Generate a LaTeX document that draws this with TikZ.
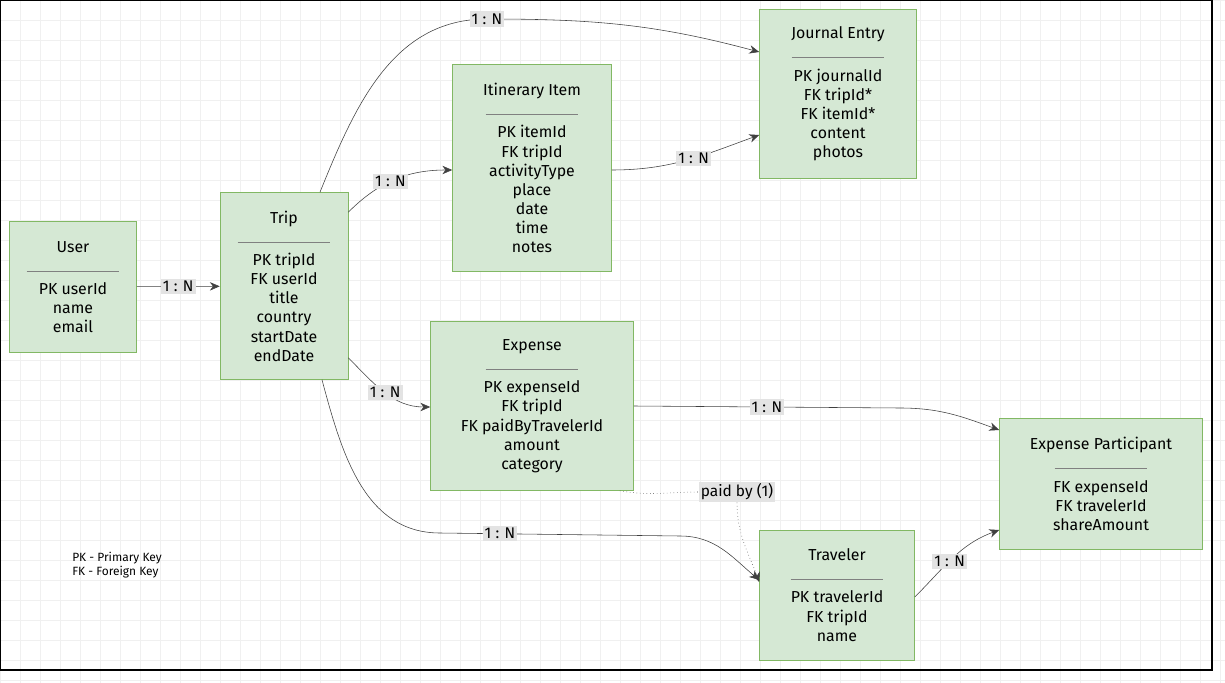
\documentclass[tikz,border=0pt]{standalone}
\usepackage{fontspec}
\setmainfont{Fira Sans}
\usetikzlibrary{arrows.meta}
\definecolor{boxfill}{RGB}{213,232,212}
\definecolor{boxline}{RGB}{130,184,100}
\begin{document}
\begin{tikzpicture}[
    x=0.025cm, y=-0.025cm,
    entity/.style={
        draw=boxline,
        fill=boxfill,
        align=center,
        font=\fontsize{11.3}{13.6}\selectfont,
        inner sep=0pt
    },
    card/.style={
        fill=gray!22,
        inner sep=1.5pt,
        font=\fontsize{11}{12}\selectfont
    },
    rel/.style={
        -{Stealth[length=7pt,width=6pt]},
        draw=black!75
    }
]
    % --- Background ---
    \useasboundingbox (0,0) rectangle (1225,683);
    \draw[step=0.5cm, gray!12] (0,0) grid (1225,683);
    \draw[black, thick] (0,0) rectangle (1212,670);

    % --- Entities ---
    \node[entity, minimum width=3.175cm, minimum height=3.275cm] (user) at (73,287)
        {User\\[3pt]\textcolor{gray}{\rule[3pt]{66pt}{0.4pt}}\\PK userId\\name\\email};
    \node[entity, minimum width=3.2cm, minimum height=4.675cm] (trip) at (284,286)
        {Trip\\[3pt]\textcolor{gray}{\rule[3pt]{66pt}{0.4pt}}\\PK tripId\\FK userId\\title\\country\\startDate\\endDate};
    \node[entity, minimum width=3.975cm, minimum height=5.175cm] (item) at (532,168)
        {Itinerary Item\\[3pt]\textcolor{gray}{\rule[3pt]{66pt}{0.4pt}}\\PK itemId\\FK tripId\\activityType\\place\\date\\time\\notes};
    \node[entity, minimum width=3.925cm, minimum height=4.225cm] (journal) at (838,94)
        {Journal Entry\\[3pt]\textcolor{gray}{\rule[3pt]{66pt}{0.4pt}}\\PK journalId\\FK tripId*\\FK itemId*\\content\\photos};
    \node[entity, minimum width=5.075cm, minimum height=4.225cm] (expense) at (532,406)
        {Expense\\[3pt]\textcolor{gray}{\rule[3pt]{66pt}{0.4pt}}\\PK expenseId\\FK tripId\\FK paidByTravelerId\\amount\\category};
    \node[entity, minimum width=5.075cm, minimum height=3.275cm] (participant) at (1101,484)
        {Expense Participant\\[3pt]\textcolor{gray}{\rule[3pt]{66pt}{0.4pt}}\\FK expenseId\\FK travelerId\\shareAmount};
    \node[entity, minimum width=3.875cm, minimum height=3.25cm] (traveler) at (837,595)
        {Traveler\\[3pt]\textcolor{gray}{\rule[3pt]{66pt}{0.4pt}}\\PK travelerId\\FK tripId\\name};

    % --- Relations ---
    \draw[rel] (user) -- node[card] {1 : N} (trip);
    \draw[rel] (trip.north) ++(36,0) coordinate (t1)
        (t1) to[out=68,in=180] (487,19) node[card] {1 : N} to[out=0,in=165] (journal.west |- 0,52);
    \draw[rel] (trip.north east) ++(0,20) coordinate (t2)
        (t2) to[out=45,in=180] node[card, pos=0.45] {1 : N} (item.west |- 0,170);
    \draw[rel] (item.east |- 0,170) to[out=0,in=200] node[card, pos=0.55] {1 : N} (journal.south west |- 0,135);
    \draw[rel] (trip.south east) ++(0,-22) coordinate (t3)
        (t3) to[out=-45,in=180] node[card, pos=0.5] {1 : N} (expense.west |- 0,407);
    \draw[rel] (trip.south) ++(38,0) coordinate (t4)
        (t4) to[out=-75,in=180] (440,533) -- node[card, pos=0.25] {1 : N} (680,536) to[out=0,in=140] (traveler.north west |- 0,580);
    \draw[rel] (expense.east |- 0,406) -- node[card, pos=0.5] {1 : N} (900,408) to[out=0,in=160] (participant.north west |- 0,430);
    \draw[rel] (traveler.east |- 0,597) to[out=45,in=200] node[card, pos=0.45] {1 : N} (participant.west |- 0,530);
    \node[card] (paid) at (737,492) {paid by (1)};
    \draw[dotted, black!75] (expense.south east) ++(-14,0) coordinate (e1) (e1) to[out=-10,in=180] (paid.west);
    \draw[rel, dotted] (paid.south) to[out=-90,in=110] (traveler.north west |- 0,582);

    % --- Legend ---
    \node[font=\fontsize{8.5}{10}\selectfont, align=left] (legend) at (117,565) {PK - Primary Key\\FK - Foreign Key};
\end{tikzpicture}
\end{document}
